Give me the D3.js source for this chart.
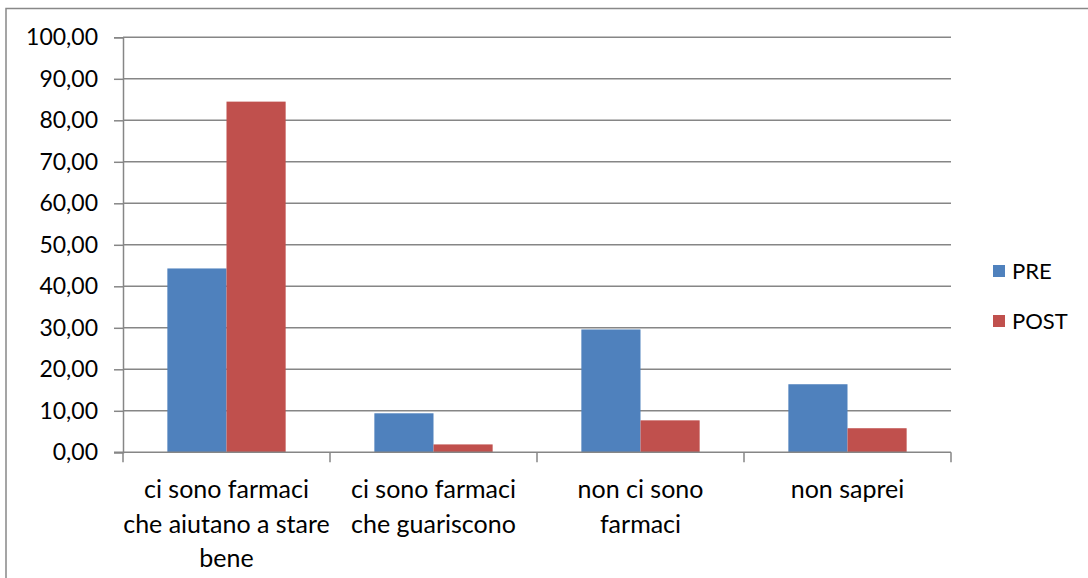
<!DOCTYPE html>
<html>
<head>
<meta charset="utf-8">
<script src="https://d3js.org/d3.v7.min.js"></script>
<style>
  body { margin: 0; background: white; }
  text { font-family: Lato, "Open Sans", sans-serif; fill: #000; }
</style>
</head>
<body>
<svg id="chart" width="1088" height="578"></svg>
<script>
// chart data
const categories = [
  ["ci sono farmaci", "che aiutano a stare", "bene"],
  ["ci sono farmaci", "che guariscono"],
  ["non ci sono", "farmaci"],
  ["non saprei"]
];
const seriesNames = ["PRE", "POST"];
const preValues = [44.3, 9.4, 29.6, 16.4];
const postValues = [84.5, 1.9, 7.7, 5.8];
const yTicks = [0, 10, 20, 30, 40, 50, 60, 70, 80, 90, 100];
const colors = ["#4F81BD", "#C0504D"];

const svg = d3.select("#chart");

// outer chart border (right/bottom fall outside the picture)
svg.append("rect")
  .attr("x", 6).attr("y", 8.5)
  .attr("width", 1100).attr("height", 600)
  .attr("fill", "none").attr("stroke", "#888").attr("stroke-width", 1.5);

const plotL = 123, plotR = 951, plotT = 37.3, plotB = 452.3;

const x = d3.scaleBand().domain(d3.range(categories.length)).range([plotL, plotR]);
const xs = d3.scaleBand().domain(seriesNames).range([0, x.bandwidth()]).paddingInner(0).paddingOuter(0.75);
const y = d3.scaleLinear().domain([0, 100]).range([plotB, plotT]);

// gridlines
svg.append("g").selectAll("line")
  .data(yTicks.filter(d => d > 0))
  .join("line")
    .attr("x1", plotL).attr("x2", plotR)
    .attr("y1", d => y(d)).attr("y2", d => y(d))
    .attr("stroke", "#868686").attr("stroke-width", 1.5);

// bars
const rows = seriesNames.map((s, j) => ({name: s, values: j == 0 ? preValues : postValues, color: colors[j]}));
rows.forEach(r => {
  svg.append("g").selectAll("rect")
    .data(r.values)
    .join("rect")
      .attr("x", (d, i) => x(i) + xs(r.name))
      .attr("y", d => y(d))
      .attr("width", xs.bandwidth())
      .attr("height", d => plotB - y(d))
      .attr("fill", r.color);
});

// y axis
const yAxis = d3.axisLeft(y).tickValues(yTicks).tickSize(9).tickPadding(16)
  .tickFormat(d => d3.format(".2f")(d).replace(".", ","));
const gy = svg.append("g").attr("transform", `translate(${plotL},0)`).call(yAxis);
gy.select(".domain").attr("stroke", "#868686").attr("stroke-width", 1.5);
gy.selectAll(".tick line").attr("stroke", "#868686").attr("stroke-width", 1.5);
gy.selectAll(".tick text").attr("font-size", 23).attr("font-family", "Lato").attr("fill", "#000");

// x axis baseline + category ticks
svg.append("line").attr("x1", plotL - 9).attr("x2", plotR)
  .attr("y1", plotB).attr("y2", plotB)
  .attr("stroke", "#868686").attr("stroke-width", 1.5);
svg.append("g").selectAll("line")
  .data(d3.range(categories.length + 1))
  .join("line")
    .attr("x1", i => plotL + i * x.step()).attr("x2", i => plotL + i * x.step())
    .attr("y1", plotB).attr("y2", plotB + 10)
    .attr("stroke", "#868686").attr("stroke-width", 1.5);

// category labels
categories.forEach((lines, i) => {
  const t = svg.append("text")
    .attr("text-anchor", "middle")
    .attr("font-size", 25);
  lines.forEach((ln, k) => {
    t.append("tspan")
      .attr("x", x(i) + x.bandwidth() / 2)
      .attr("y", 498 + k * 34.5)
      .text(ln);
  });
});

// legend
const legend = svg.append("g").attr("transform", "translate(993,0)");
seriesNames.forEach((s, j) => {
  const cy = 271 + j * 50;
  legend.append("rect").attr("x", 0).attr("y", cy - 6).attr("width", 12).attr("height", 12).attr("fill", colors[j]);
  legend.append("text").attr("x", 19).attr("y", cy).attr("dy", "0.35em")
    .attr("font-size", 22).text(s);
});
</script>
</body>
</html>
